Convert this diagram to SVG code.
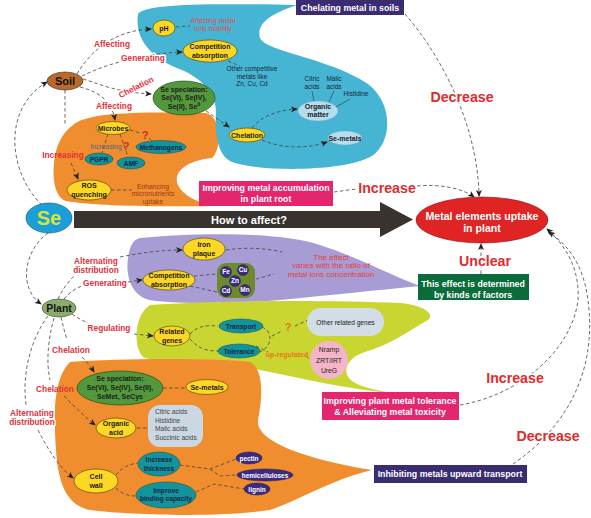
<svg xmlns="http://www.w3.org/2000/svg" width="591" height="518" viewBox="0 0 591 518">
<defs>
<marker id="ah" markerWidth="7" markerHeight="7" refX="6" refY="3.5" orient="auto" markerUnits="userSpaceOnUse"><path d="M0,0.5 L7,3.5 L0,6.5 L1.8,3.5 Z" fill="#222"/></marker>
<style>
text{font-family:"Liberation Sans",Arial,sans-serif}
.lbl{font-size:8.3px;font-weight:bold;fill:#e3303a;text-anchor:middle}
.halo{paint-order:stroke;stroke:#fff;stroke-width:3px;stroke-linejoin:round}
.big{font-size:14.2px;font-weight:bold;fill:#e02c2c;text-anchor:middle}
.yel{fill:#fdd725;stroke:#4a3c00;stroke-width:0.6}
.grn{fill:#53993b;stroke:#1d3d12;stroke-width:0.6}
.teal{fill:#13939a;stroke:#0b4a50;stroke-width:0.5}
.pur{fill:#3b2b80;stroke:#22184a;stroke-width:0.5}
.lb{fill:#b6dcef;stroke:#7aa9c0;stroke-width:0.4}
.nt{font-size:7px;font-weight:bold;fill:#1b1b1b;text-anchor:middle}
.tt{font-size:6.6px;font-weight:bold;fill:#15264a;text-anchor:middle}
.wt{font-size:6.5px;font-weight:bold;fill:#fff;text-anchor:middle}
.sm{font-size:6.5px;fill:#1b2633;text-anchor:middle}
.box{font-size:8.8px;font-weight:bold;fill:#fff;text-anchor:middle}
.d{fill:none;stroke:#444;stroke-width:0.8;stroke-dasharray:3.5 2.5}
.a{marker-end:url(#ah)}
</style>
</defs>
<rect width="591" height="518" fill="#fff"/>
<g id="regions">
<path id="orange-soil" d="M72,126 C85,112 140,112 205,113 C222,115 222,150 212,158 C190,160 172,170 178,185 C183,196 198,202 212,206 C160,207 95,206 66,201 C50,196 52,160 58,145 C62,136 66,130 72,126 Z" fill="#ef8d2f"/>
<path id="blue-soil" d="M138,14 C145,4 200,3 297,5 C270,14 256,24 260,38 C266,52 330,58 368,84 C394,104 392,142 372,156 C345,172 260,172 232,162 C216,155 215,130 216,112 C216,92 200,78 182,70 C155,60 134,42 138,14 Z" fill="#45b5d3"/>
<path id="lavender" d="M140,238 C200,232 280,232 320,245 C360,258 390,275 420,286 C380,290 330,295 280,300 C230,304 170,304 150,300 C128,295 126,270 128,258 C130,245 133,240 140,238 Z" fill="#a89cd4"/>
<path id="lime" d="M150,305 C220,300 330,300 400,303 C425,305 435,315 428,320 C410,330 390,345 365,352 C345,358 340,375 355,383 C365,388 380,391 392,393 C350,390 300,378 250,368 C200,362 160,362 145,358 C133,352 133,315 150,305 Z" fill="#c9d631"/>
<path id="orange-plant" d="M70,362 C120,358 220,358 250,362 C265,370 262,400 258,420 C255,440 300,458 372,470 C330,480 300,500 270,510 C220,518 130,515 90,510 C65,505 58,480 56,450 C54,420 52,380 70,362 Z" fill="#ef8d2f"/>
</g>
<g id="connectors">
<path class="d a" d="M42,205 C10,175 0,110 47,82"/>
<path class="d a" d="M77,74 C92,48 118,30 151,29"/>
<path class="d a" d="M82,76 C110,62 150,53 182,52"/>
<path class="d a" d="M83,79 C100,84 115,92 151,94"/>
<path class="d a" d="M80,87 C100,92 112,102 115,120"/>
<path class="d" d="M65,90 L65,125"/>
<path class="d a" d="M71,163 C74,170 76,174 78,179"/>
<path class="d" d="M176,27 L190,26"/>
<path class="d" d="M228,61 L240,66"/>
<path class="d a" d="M206,111 L229,127"/>
<path class="d a" d="M252,128 C262,115 280,110 297,109"/>
<path class="d a" d="M262,140 C285,150 310,148 327,142"/>
<path fill="none" stroke="#333" stroke-width="0.6" d="M312,91 L314,101 M334,91 L329,102 M350,99 L336,107"/>
<path class="d" d="M130,130 L140,133 M149,138 L152,141 M108,134 L102,153 M120,134 L128,157"/>
<path class="d" d="M111,190 L132,190"/>
<path class="d a" d="M405,14 C445,60 478,130 479,196"/>
<path class="d" d="M334,192 L356,189"/>
<path class="d a" d="M417,186 C440,184 462,188 474,197"/>
<path class="d a" d="M481,274 L481,244"/>
<path class="d a" d="M460,405 C520,395 572,350 578,300 C580,268 565,245 547,229"/>
<path class="d a" d="M513,464 C560,432 595,380 589,310 C586,270 572,248 549,232"/>
<path class="d a" d="M48,233 C24,250 18,288 41,304"/>
<path class="d" d="M58,299 C62,290 68,282 74,276"/>
<path class="d a" d="M120,257 C145,252 165,250 182,250"/>
<path class="d" d="M64,299 C70,292 76,288 82,286"/>
<path class="d a" d="M128,282 L142,280"/>
<path class="d" d="M226,250 C245,247 265,248 282,252 M256,279 L274,274 M194,276 L217,274 M190,286 L217,292"/>
<path class="d" d="M72,314 C78,318 83,321 88,323"/>
<path class="d a" d="M134,334 L153,336"/>
<path class="d" d="M190,334 C198,326 205,325 218,326 M190,339 C198,348 205,351 218,351 M262,327 C272,331 274,345 260,352 M272,336 L282,331 M295,326 L308,320 M256,346 L268,352 M306,356 L312,361"/>
<path class="d" d="M61,317 C63,326 65,333 67,340"/>
<path class="d a" d="M82,357 C87,362 91,367 94,372"/>
<path class="d" d="M54,318 C48,340 46,362 50,380"/>
<path class="d a" d="M64,396 C76,408 86,418 95,425"/>
<path class="d" d="M48,316 C30,340 22,375 26,405"/>
<path class="d a" d="M38,430 C48,450 60,468 73,478"/>
<path class="d" d="M163,388 L185,388 M137,428 L148,428 M116,475 C122,467 130,464 138,463 M116,488 C122,494 128,496 136,496 M180,465 L210,469 L236,459 M210,469 L220,476 L237,475 M196,492 L214,484 L244,489"/>
</g>
<g id="labels">
<text class="lbl halo" x="112" y="47">Affecting</text>
<text class="lbl halo" x="143" y="61">Generating</text>
<text class="lbl halo" x="136" y="90" transform="rotate(-27 136 87)">Chelation</text>
<text class="lbl halo" x="114" y="109">Affecting</text>
<text class="lbl" x="63" y="158">Increasing</text>
<text class="lbl halo" x="96" y="264">Alternating</text>
<text class="lbl halo" x="96" y="273">distribution</text>
<text class="lbl halo" x="105" y="286">Generating</text>
<text class="lbl halo" x="109" y="331">Regulating</text>
<text class="lbl halo" x="71" y="353">Chelation</text>
<text class="lbl" x="55" y="392">Chelation</text>
<text class="lbl halo" x="32" y="416">Alternating</text>
<text class="lbl halo" x="32" y="425">distribution</text>
<text class="big halo" x="462" y="102">Decrease</text>
<text class="big halo" x="387" y="193">Increase</text>
<text class="big halo" x="485" y="266">Unclear</text>
<text class="big halo" x="515" y="383">Increase</text>
<text class="big halo" x="548" y="441">Decrease</text>
</g>
<g id="arrow-main">
<path d="M74,211 L380,211 L380,202 L413,219.5 L380,237 L380,228 L74,228 Z" fill="#39332f"/>
<text x="249" y="224" font-size="11" font-weight="bold" fill="#fff" text-anchor="middle">How to affect?</text>
</g>
<g id="node-se"><ellipse cx="49" cy="218" rx="23" ry="15" fill="#1a9fd9" stroke="#0a4a6a" stroke-width="0.6"/><text x="49" y="225" font-size="20" font-weight="bold" fill="#d8e43a" text-anchor="middle">Se</text></g>
<g id="node-soil"><ellipse cx="65" cy="81" rx="18" ry="9" fill="#b8692c" stroke="#3a200a" stroke-width="0.6"/><text x="65" y="85" font-size="11" font-weight="bold" fill="#111" text-anchor="middle">Soil</text></g>
<g id="node-plant"><ellipse cx="59" cy="308" rx="17" ry="9" fill="#8aad6c" stroke="#2a3a20" stroke-width="0.6"/><text x="59" y="312" font-size="10.5" font-weight="bold" fill="#111" text-anchor="middle">Plant</text></g>
<g id="node-metal"><ellipse cx="482" cy="220" rx="66" ry="23" fill="#e02323" stroke="#8a1010" stroke-width="0.6"/><text x="482" y="220" font-size="10.6" font-weight="bold" fill="#fff" text-anchor="middle">Metal elements uptake</text><text x="482" y="232" font-size="10.6" font-weight="bold" fill="#fff" text-anchor="middle">in plant</text></g>
<g id="box-chelating"><rect x="296" y="0" width="108" height="15" fill="#3a2c70"/><text class="box" x="350" y="10.5">Chelating metal in soils</text></g>
<g id="box-root"><rect x="199" y="181" width="134" height="25" fill="#e4266f"/><text class="box" x="266" y="191">Improving metal accumulation</text><text class="box" x="266" y="202">in plant root</text></g>
<g id="box-factors"><rect x="418" y="274" width="111" height="26" fill="#0b6b3a"/><text class="box" x="473" y="287">This effect is determined</text><text class="box" x="473" y="298">by kinds of factors</text></g>
<g id="box-tolerance"><rect x="322" y="392" width="137" height="28" fill="#e4266f"/><text class="box" x="390" y="404">Improving plant metal tolerance</text><text class="box" x="390" y="415">&amp; Alleviating metal toxicity</text></g>
<g id="box-inhibit"><rect x="374" y="465" width="153" height="18" fill="#3a2c70"/><text class="box" x="450" y="477">Inhibiting metals upward transport</text></g>
<g id="node-ph"><ellipse class="yel" cx="164" cy="28" rx="11" ry="8"/><text class="nt" x="164" y="30.5">pH</text></g>
<g id="txt-mobility"><text x="213" y="23" font-size="6.8" fill="#e5484a" text-anchor="middle">Affecting metal</text><text x="213" y="31" font-size="6.8" fill="#e5484a" text-anchor="middle">ions mobility</text></g>
<g id="node-comp-soil"><ellipse class="yel" cx="210" cy="51" rx="27" ry="11"/><text class="nt" x="210" y="49">Competition</text><text class="nt" x="210" y="57.5">absorption</text></g>
<g id="txt-competitive"><text class="sm" x="252" y="71">Other competitive</text><text class="sm" x="252" y="78.5">metals like</text><text class="sm" x="252" y="86">Zn, Cu, Cd</text></g>
<g id="node-sespec-soil"><ellipse class="grn" cx="184" cy="98" rx="31" ry="17"/><text class="nt" x="184" y="91.5">Se speciation:</text><text class="nt" x="184" y="100">Se(VI), Se(IV),</text><text class="nt" x="184" y="108.5">Se(II), Se<tspan font-size="5" dy="-3">0</tspan></text></g>
<g id="node-chelation"><ellipse class="yel" cx="247" cy="135" rx="18" ry="7"/><text class="nt" x="247" y="137.5">Chelation</text></g>
<g id="node-organic-matter"><ellipse class="lb" cx="318" cy="111" rx="20" ry="10"/><text class="nt" x="318" y="109" fill="#1c2a3a">Organic</text><text class="nt" x="318" y="117">matter</text></g>
<g id="txt-acids-soil"><text class="sm" x="312" y="81">Citric</text><text class="sm" x="312" y="88.5">acids</text><text class="sm" x="334" y="81">Malic</text><text class="sm" x="334" y="88.5">acids</text><text class="sm" x="356" y="96">Histidine</text></g>
<g id="node-semetals-soil"><ellipse class="lb" cx="345" cy="138" rx="17" ry="7"/><text class="nt" x="345" y="140.5" font-size="6.5">Se-metals</text></g>
<g id="node-microbes"><ellipse class="yel" cx="113" cy="128" rx="17" ry="6.5"/><text class="nt" x="113" y="130.5">Microbes</text></g>
<g id="node-methanogens"><ellipse class="teal" cx="161" cy="147" rx="25" ry="6.5"/><text class="tt" x="161" y="149.5">Methanogens</text></g>
<g id="node-pgpr"><ellipse class="teal" cx="99" cy="159" rx="14" ry="6"/><text class="tt" x="99" y="161.5">PGPR</text></g>
<g id="node-amf"><ellipse class="teal" cx="131" cy="163" rx="14" ry="6"/><text class="tt" x="131" y="165.5">AMF</text></g>
<g id="txt-increasing"><text x="106" y="148.5" font-size="6.8" fill="#4c6585" text-anchor="middle">Increasing</text><text x="145" y="139" font-size="11" font-weight="bold" fill="#c8302e" text-anchor="middle">?</text><text x="126" y="150" font-size="11" font-weight="bold" fill="#c8302e" text-anchor="middle">?</text></g>
<g id="node-ros"><ellipse class="yel" cx="89" cy="190" rx="22" ry="10"/><text class="nt" x="89" y="188">ROS</text><text class="nt" x="89" y="196.5">quenching</text></g>
<g id="txt-enhancing"><text x="153" y="188.5" font-size="6.8" fill="#9a3a1a" text-anchor="middle">Enhancing</text><text x="153" y="196" font-size="6.8" fill="#9a3a1a" text-anchor="middle">micronutrients</text><text x="153" y="203.5" font-size="6.8" fill="#9a3a1a" text-anchor="middle">uptake</text></g>
<g id="node-iron"><ellipse class="yel" cx="204" cy="249" rx="21" ry="11"/><text class="nt" x="204" y="247">Iron</text><text class="nt" x="204" y="255.5">plaque</text></g>
<g id="node-comp-plant"><ellipse class="yel" cx="169" cy="280" rx="26" ry="10"/><text class="nt" x="169" y="278">Competition</text><text class="nt" x="169" y="286.5">absorption</text></g>
<g id="node-metals-group"><rect x="217" y="263" width="38" height="35" rx="9" fill="#6e8a2e"/>
<circle class="pur" cx="226" cy="272" r="5.5"/><text class="wt" x="226" y="274" font-size="5.5">Fe</text>
<circle class="pur" cx="243" cy="270" r="5.5"/><text class="wt" x="243" y="272" font-size="5.5">Cu</text>
<circle class="pur" cx="235" cy="281" r="5.5"/><text class="wt" x="235" y="283" font-size="5.5">Zn</text>
<circle class="pur" cx="226" cy="291" r="5.5"/><text class="wt" x="226" y="293" font-size="5.5">Cd</text>
<circle class="pur" cx="245" cy="290" r="5.5"/><text class="wt" x="245" y="292" font-size="5.5">Mn</text></g>
<g id="txt-effect"><text x="331" y="259.5" font-size="8" fill="#e5403f" text-anchor="middle">The effect</text><text x="331" y="268" font-size="8" fill="#e5403f" text-anchor="middle">varies with the ratio of</text><text x="331" y="276.5" font-size="8" fill="#e5403f" text-anchor="middle">metal ions concentration</text></g>
<g id="node-related"><ellipse class="yel" cx="172" cy="336" rx="18" ry="10"/><text class="nt" x="172" y="334">Related</text><text class="nt" x="172" y="342.5">genes</text></g>
<g id="node-transport"><ellipse class="teal" cx="241" cy="326" rx="22" ry="7"/><text class="tt" x="241" y="328.5">Transport</text></g>
<g id="node-tolerance"><ellipse class="teal" cx="239" cy="351" rx="21" ry="7"/><text class="tt" x="239" y="353.5">Tolerance</text></g>
<g id="node-other-genes"><rect x="307" y="308" width="77" height="28" rx="14" fill="#d2dde5"/><text x="345.5" y="324.5" font-size="6.6" fill="#222" text-anchor="middle">Other related genes</text></g>
<g id="txt-genes-q"><text x="288" y="331" font-size="11" font-weight="bold" fill="#e8761a" text-anchor="middle">?</text><text x="287" y="356.5" font-size="7" font-weight="bold" fill="#e8761a" text-anchor="middle">up-regulated</text></g>
<g id="node-nramp"><circle cx="329" cy="360" r="19" fill="#f5b5c8"/><text x="329" y="352" font-size="6.8" fill="#222" text-anchor="middle">Nramp</text><text x="329" y="362.5" font-size="6.8" fill="#222" text-anchor="middle">ZRT/IRT</text><text x="329" y="373" font-size="6.8" fill="#222" text-anchor="middle">UreG</text></g>
<g id="node-sespec-plant"><ellipse class="grn" cx="120" cy="388" rx="43" ry="17"/><text class="nt" x="120" y="381" font-size="8">Se speciation:</text><text class="nt" x="120" y="390" font-size="8">Se(VI), Se(IV), Se(II),</text><text class="nt" x="120" y="398.5" font-size="8">SeMet, SeCys</text></g>
<g id="node-semetals-plant"><ellipse class="yel" cx="207" cy="387" rx="21" ry="7.5"/><text class="nt" x="207" y="389.5" font-size="6.8">Se-metals</text></g>
<g id="node-organic-acid"><ellipse class="yel" cx="116" cy="428" rx="20" ry="10"/><text class="nt" x="116" y="426">Organic</text><text class="nt" x="116" y="434.5">acid</text></g>
<g id="node-acids-plant"><rect x="148" y="405" width="55" height="42" rx="12" fill="#cbd7e2"/><text x="155" y="414" font-size="6.6" fill="#444">Citric acids</text><text x="155" y="422.5" font-size="6.6" fill="#444">Histidine</text><text x="155" y="431" font-size="6.6" fill="#444">Malic acids</text><text x="155" y="439.5" font-size="6.6" fill="#444">Succinic acids</text></g>
<g id="node-cellwall"><ellipse class="yel" cx="96" cy="481" rx="22" ry="12"/><text class="nt" x="96" y="479">Cell</text><text class="nt" x="96" y="488">wall</text></g>
<g id="node-thickness"><ellipse class="teal" cx="159" cy="464" rx="21" ry="12"/><text class="tt" x="159" y="462">Increase</text><text class="tt" x="159" y="470.5">thickness</text></g>
<g id="node-binding"><ellipse class="teal" cx="166" cy="495" rx="30" ry="13"/><text class="tt" x="166" y="492.5">Improve</text><text class="tt" x="166" y="501">binding capacity</text></g>
<g id="node-pectin"><ellipse class="pur" cx="249" cy="458" rx="13" ry="6"/><text class="wt" x="249" y="460.5">pectin</text></g>
<g id="node-hemi"><ellipse class="pur" cx="265" cy="475" rx="28" ry="6"/><text class="wt" x="265" y="477.5">hemicelluloses</text></g>
<g id="node-lignin"><ellipse class="pur" cx="257" cy="489" rx="13" ry="6"/><text class="wt" x="257" y="491.5">lignin</text></g>
</svg>
